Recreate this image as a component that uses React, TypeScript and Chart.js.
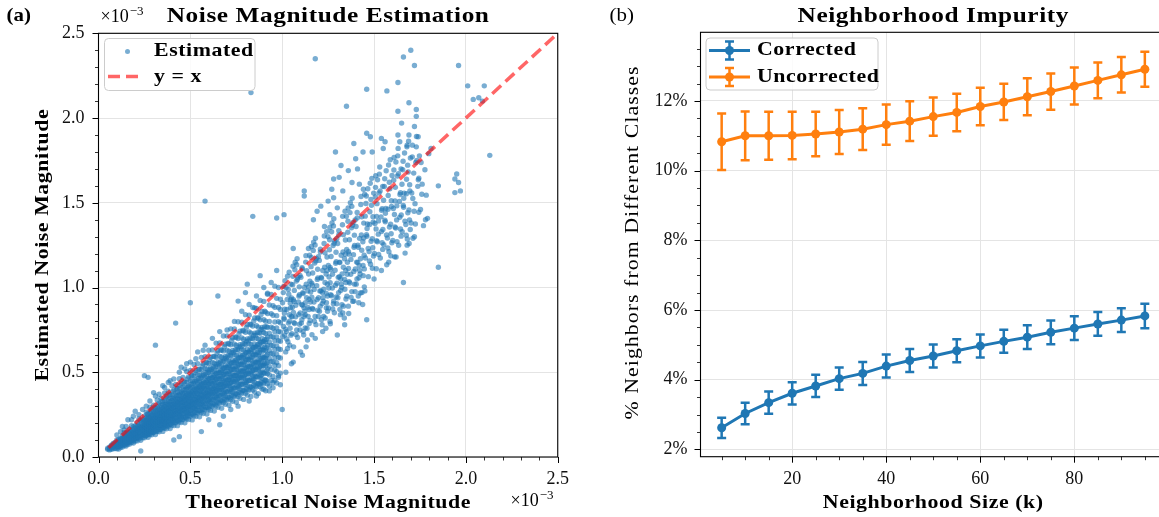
import React, { useEffect, useRef } from 'react';
import { Chart, registerables } from 'chart.js';
Chart.register(...registerables);

const FONT = '"Liberation Serif", "Times New Roman", serif';

// ---------- Panel (a): Noise Magnitude Estimation (values in units of 1e-3) ----------
const axisTicksA = [0, 0.5, 1.0, 1.5, 2.0, 2.5];

// dense core: [theoretical, [estimated values...]]
const denseCoreColumns: [number, number[]][] = [
  [0.05, [0.045, 0.052]],
  [0.06, [0.042, 0.05, 0.058]],
  [0.07, [0.046, 0.055, 0.063, 0.07]],
  [0.08, [0.048, 0.057, 0.064, 0.072, 0.08]],
  [0.09, [0.05, 0.06, 0.067, 0.075, 0.086]],
  [0.10, [0.048, 0.06, 0.07, 0.082, 0.1]],
  [0.11, [0.047, 0.065, 0.076, 0.088, 0.103]],
  [0.12, [0.056, 0.068, 0.079, 0.092, 0.11]],
  [0.13, [0.059, 0.075, 0.088, 0.102, 0.125]],
  [0.14, [0.067, 0.084, 0.098, 0.114, 0.143]],
  [0.15, [0.065, 0.075, 0.089, 0.104, 0.112, 0.12, 0.141]],
  [0.16, [0.075, 0.086, 0.098, 0.106, 0.114, 0.123, 0.147]],
  [0.17, [0.077, 0.088, 0.098, 0.115, 0.124, 0.133, 0.164]],
  [0.18, [0.086, 0.099, 0.108, 0.126, 0.136, 0.147, 0.184]],
  [0.19, [0.082, 0.095, 0.112, 0.131, 0.142, 0.152, 0.179]],
  [0.20, [0.094, 0.107, 0.122, 0.132, 0.143, 0.154, 0.184]],
  [0.21, [0.095, 0.109, 0.121, 0.142, 0.153, 0.165, 0.203]],
  [0.22, [0.106, 0.121, 0.132, 0.154, 0.166, 0.179, 0.224]],
  [0.23, [0.099, 0.115, 0.136, 0.159, 0.171, 0.184, 0.216]],
  [0.24, [0.113, 0.128, 0.146, 0.158, 0.172, 0.185, 0.221]],
  [0.25, [0.113, 0.13, 0.144, 0.156, 0.169, 0.183, 0.196, 0.215, 0.241]],
  [0.26, [0.125, 0.143, 0.156, 0.169, 0.182, 0.196, 0.212, 0.234, 0.265]],
  [0.27, [0.116, 0.135, 0.159, 0.173, 0.186, 0.201, 0.216, 0.238, 0.254]],
  [0.28, [0.132, 0.15, 0.158, 0.171, 0.185, 0.2, 0.216, 0.232, 0.258, 0.294]],
  [0.29, [0.131, 0.151, 0.167, 0.181, 0.196, 0.212, 0.228, 0.249, 0.28]],
  [0.30, [0.144, 0.165, 0.18, 0.195, 0.21, 0.227, 0.245, 0.27, 0.306]],
  [0.31, [0.133, 0.155, 0.183, 0.198, 0.214, 0.231, 0.248, 0.273, 0.291]],
  [0.32, [0.15, 0.171, 0.181, 0.195, 0.211, 0.229, 0.246, 0.266, 0.294, 0.336]],
  [0.33, [0.149, 0.172, 0.19, 0.206, 0.223, 0.241, 0.259, 0.284, 0.318]],
  [0.34, [0.163, 0.187, 0.204, 0.221, 0.238, 0.257, 0.277, 0.306, 0.347]],
  [0.35, [0.151, 0.175, 0.207, 0.224, 0.242, 0.261, 0.28, 0.308, 0.329]],
  [0.36, [0.169, 0.193, 0.203, 0.22, 0.238, 0.257, 0.277, 0.299, 0.331, 0.378]],
  [0.37, [0.167, 0.192, 0.213, 0.231, 0.25, 0.27, 0.29, 0.318, 0.357]],
  [0.38, [0.182, 0.209, 0.228, 0.247, 0.266, 0.287, 0.31, 0.342, 0.388]],
  [0.39, [0.168, 0.195, 0.23, 0.25, 0.269, 0.291, 0.312, 0.343, 0.367]],
  [0.40, [0.188, 0.214, 0.226, 0.244, 0.264, 0.286, 0.308, 0.332, 0.368, 0.42]],
  [0.41, [0.185, 0.213, 0.236, 0.256, 0.277, 0.299, 0.322, 0.353, 0.396]],
  [0.42, [0.202, 0.231, 0.252, 0.273, 0.294, 0.317, 0.342, 0.378, 0.428]],
  [0.43, [0.185, 0.215, 0.254, 0.275, 0.297, 0.32, 0.344, 0.378, 0.404]],
  [0.44, [0.207, 0.235, 0.249, 0.268, 0.29, 0.315, 0.339, 0.365, 0.405, 0.462]],
  [0.45, [0.203, 0.234, 0.259, 0.281, 0.304, 0.329, 0.353, 0.387, 0.434]],
  [0.46, [0.221, 0.253, 0.276, 0.299, 0.322, 0.347, 0.375, 0.414, 0.469]],
  [0.47, [0.202, 0.235, 0.277, 0.301, 0.324, 0.35, 0.376, 0.414, 0.442]],
  [0.48, [0.226, 0.257, 0.271, 0.293, 0.317, 0.343, 0.37, 0.398, 0.442, 0.504]],
  [0.49, [0.221, 0.255, 0.282, 0.306, 0.331, 0.358, 0.385, 0.421, 0.473]],
  [0.50, [0.24, 0.275, 0.3, 0.325, 0.35, 0.378, 0.408, 0.45, 0.51]],
  [0.51, [0.219, 0.255, 0.301, 0.326, 0.352, 0.38, 0.408, 0.449, 0.479]],
  [0.52, [0.244, 0.278, 0.294, 0.317, 0.343, 0.372, 0.4, 0.432, 0.478, 0.546]],
  [0.53, [0.239, 0.276, 0.305, 0.331, 0.358, 0.387, 0.416, 0.456, 0.511]],
  [0.54, [0.259, 0.297, 0.324, 0.351, 0.378, 0.408, 0.44, 0.486, 0.551]],
  [0.55, [0.237, 0.275, 0.325, 0.352, 0.38, 0.41, 0.44, 0.484, 0.517]],
  [0.56, [0.263, 0.3, 0.316, 0.342, 0.37, 0.4, 0.431, 0.465, 0.515, 0.588]],
  [0.57, [0.257, 0.296, 0.328, 0.356, 0.385, 0.416, 0.447, 0.49, 0.55]],
  [0.58, [0.278, 0.319, 0.348, 0.377, 0.406, 0.438, 0.473, 0.522, 0.592]],
  [0.59, [0.254, 0.295, 0.348, 0.378, 0.407, 0.44, 0.472, 0.519, 0.555]],
  [0.60, [0.282, 0.321, 0.339, 0.366, 0.396, 0.429, 0.462, 0.498, 0.552, 0.63]],
  [0.61, [0.275, 0.317, 0.351, 0.381, 0.412, 0.445, 0.479, 0.525, 0.589]],
  [0.62, [0.298, 0.341, 0.372, 0.403, 0.434, 0.468, 0.505, 0.558, 0.632]],
  [0.63, [0.271, 0.315, 0.372, 0.403, 0.435, 0.469, 0.504, 0.554, 0.592]],
  [0.64, [0.301, 0.342, 0.362, 0.39, 0.422, 0.458, 0.493, 0.531, 0.589, 0.672]],
  [0.65, [0.293, 0.338, 0.374, 0.406, 0.439, 0.475, 0.51, 0.559, 0.627]],
  [0.66, [0.317, 0.363, 0.396, 0.429, 0.462, 0.498, 0.538, 0.594, 0.673]],
  [0.67, [0.288, 0.335, 0.395, 0.429, 0.462, 0.499, 0.536, 0.59, 0.63]],
  [0.68, [0.32, 0.364, 0.384, 0.415, 0.449, 0.486, 0.524, 0.564, 0.626, 0.714]],
  [0.69, [0.311, 0.359, 0.397, 0.431, 0.466, 0.504, 0.542, 0.593, 0.666]],
  [0.70, [0.336, 0.385, 0.42, 0.455, 0.49, 0.529, 0.571, 0.63, 0.714]],
  [0.71, [0.305, 0.355, 0.419, 0.454, 0.49, 0.529, 0.568, 0.625, 0.667]],
  [0.72, [0.338, 0.385, 0.407, 0.439, 0.475, 0.515, 0.554, 0.598, 0.662, 0.756]],
  [0.73, [0.329, 0.38, 0.42, 0.456, 0.493, 0.533, 0.573, 0.628, 0.704]],
  [0.74, [0.355, 0.407, 0.444, 0.481, 0.518, 0.559, 0.603, 0.666, 0.755]],
  [0.75, [0.323, 0.375, 0.443, 0.48, 0.518, 0.559, 0.6, 0.66, 0.705]],
  [0.76, [0.357, 0.407, 0.429, 0.464, 0.502, 0.543, 0.585, 0.631, 0.699, 0.798]],
  [0.77, [0.347, 0.4, 0.443, 0.481, 0.52, 0.562, 0.604, 0.662, 0.743]],
  [0.78, [0.374, 0.429, 0.468, 0.507, 0.546, 0.589, 0.636, 0.702, 0.796]],
  [0.79, [0.34, 0.395, 0.466, 0.506, 0.545, 0.589, 0.632, 0.695, 0.743]],
  [0.80, [0.376, 0.428, 0.452, 0.488, 0.528, 0.572, 0.616, 0.664, 0.736, 0.84]],
  [0.81, [0.365, 0.421, 0.466, 0.506, 0.547, 0.591, 0.636, 0.697, 0.782]],
  [0.82, [0.394, 0.451, 0.492, 0.533, 0.574, 0.619, 0.668, 0.738, 0.836]],
  [0.83, [0.357, 0.415, 0.49, 0.531, 0.573, 0.618, 0.664, 0.73, 0.78]],
  [0.84, [0.395, 0.449, 0.475, 0.512, 0.554, 0.601, 0.647, 0.697, 0.773, 0.882]],
  [0.85, [0.383, 0.442, 0.489, 0.531, 0.574, 0.621, 0.667, 0.731, 0.82]],
  [0.86, [0.413, 0.473, 0.516, 0.559, 0.602, 0.649, 0.701, 0.774, 0.877]],
  [0.87, [0.374, 0.435, 0.513, 0.557, 0.6, 0.648, 0.696, 0.766, 0.818]],
  [0.88, [0.414, 0.471, 0.497, 0.537, 0.581, 0.629, 0.678, 0.73, 0.81, 0.924]],
  [0.89, [0.401, 0.463, 0.512, 0.556, 0.601, 0.65, 0.699, 0.765, 0.859]],
  [0.90, [0.432, 0.495, 0.54, 0.585, 0.63, 0.68, 0.734, 0.81, 0.918]],
  [0.91, [0.391, 0.455, 0.537, 0.582, 0.628, 0.678, 0.728, 0.801, 0.855]],
  [0.92, [0.432, 0.492, 0.52, 0.561, 0.607, 0.658, 0.708, 0.764, 0.846, 0.966]],
  [0.93, [0.419, 0.484, 0.535, 0.581, 0.628, 0.679, 0.73, 0.8, 0.897]],
  [0.94, [0.451, 0.517, 0.564, 0.611, 0.658, 0.71, 0.766, 0.846, 0.959]],
  [0.95, [0.409, 0.475, 0.561, 0.608, 0.656, 0.708, 0.76, 0.836, 0.893]],
  [0.96, [0.451, 0.514, 0.542, 0.586, 0.634, 0.686, 0.739, 0.797, 0.883, 1.008]],
  [0.97, [0.437, 0.504, 0.558, 0.606, 0.655, 0.708, 0.761, 0.834, 0.936]],
  [0.98, [0.47, 0.539, 0.588, 0.637, 0.686, 0.74, 0.799, 0.882, 1.0]],
  [0.99, [0.426, 0.495, 0.584, 0.634, 0.683, 0.738, 0.792, 0.871, 0.931]],
];

// second layer of the core, read between the first layer's columns
const denseCoreFillColumns: [number, number[]][] = [
  [0.105, [0.058, 0.068, 0.078, 0.09]],
  [0.115, [0.063, 0.075, 0.085, 0.099]],
  [0.125, [0.069, 0.081, 0.093, 0.108]],
  [0.135, [0.074, 0.088, 0.1, 0.116]],
  [0.145, [0.08, 0.094, 0.107, 0.125]],
  [0.155, [0.085, 0.101, 0.115, 0.133]],
  [0.165, [0.091, 0.107, 0.122, 0.142]],
  [0.175, [0.096, 0.114, 0.13, 0.151]],
  [0.185, [0.102, 0.12, 0.137, 0.159]],
  [0.195, [0.107, 0.127, 0.144, 0.168]],
  [0.205, [0.113, 0.133, 0.152, 0.176]],
  [0.215, [0.118, 0.14, 0.159, 0.185]],
  [0.225, [0.124, 0.146, 0.167, 0.194]],
  [0.235, [0.129, 0.153, 0.174, 0.202]],
  [0.245, [0.135, 0.159, 0.181, 0.211]],
  [0.255, [0.125, 0.142, 0.154, 0.167, 0.18, 0.194, 0.214]],
  [0.265, [0.133, 0.144, 0.162, 0.171, 0.189, 0.203, 0.225, 0.252]],
  [0.275, [0.135, 0.153, 0.166, 0.18, 0.194, 0.209, 0.231]],
  [0.285, [0.143, 0.155, 0.174, 0.184, 0.204, 0.218, 0.242, 0.271]],
  [0.295, [0.145, 0.164, 0.178, 0.193, 0.208, 0.224, 0.248]],
  [0.305, [0.153, 0.166, 0.186, 0.197, 0.218, 0.233, 0.259, 0.29]],
  [0.315, [0.154, 0.175, 0.191, 0.206, 0.222, 0.239, 0.265]],
  [0.325, [0.163, 0.177, 0.198, 0.21, 0.232, 0.249, 0.276, 0.309]],
  [0.335, [0.164, 0.186, 0.203, 0.219, 0.236, 0.255, 0.281]],
  [0.345, [0.173, 0.188, 0.21, 0.223, 0.247, 0.264, 0.293, 0.328]],
  [0.355, [0.174, 0.197, 0.215, 0.233, 0.25, 0.27, 0.298]],
  [0.365, [0.183, 0.199, 0.223, 0.235, 0.261, 0.279, 0.31, 0.347]],
  [0.375, [0.184, 0.208, 0.227, 0.246, 0.264, 0.285, 0.315]],
  [0.385, [0.193, 0.21, 0.235, 0.248, 0.275, 0.295, 0.327, 0.366]],
  [0.395, [0.194, 0.219, 0.239, 0.259, 0.278, 0.3, 0.332]],
  [0.405, [0.203, 0.221, 0.247, 0.261, 0.29, 0.31, 0.344, 0.385]],
  [0.415, [0.203, 0.23, 0.251, 0.272, 0.293, 0.315, 0.349]],
  [0.425, [0.213, 0.232, 0.259, 0.274, 0.304, 0.325, 0.361, 0.404]],
  [0.435, [0.213, 0.241, 0.263, 0.285, 0.307, 0.331, 0.365]],
  [0.445, [0.223, 0.243, 0.271, 0.287, 0.318, 0.34, 0.378, 0.423]],
  [0.455, [0.223, 0.253, 0.275, 0.298, 0.321, 0.346, 0.382]],
  [0.465, [0.233, 0.253, 0.284, 0.3, 0.332, 0.356, 0.395, 0.442]],
  [0.475, [0.233, 0.264, 0.287, 0.311, 0.335, 0.361, 0.399]],
  [0.485, [0.243, 0.264, 0.296, 0.313, 0.347, 0.371, 0.412, 0.461]],
  [0.495, [0.243, 0.275, 0.299, 0.324, 0.349, 0.376, 0.416]],
  [0.505, [0.253, 0.275, 0.308, 0.326, 0.361, 0.386, 0.429, 0.48]],
  [0.515, [0.252, 0.286, 0.312, 0.337, 0.363, 0.391, 0.433]],
  [0.525, [0.263, 0.286, 0.32, 0.339, 0.375, 0.402, 0.446, 0.499]],
  [0.535, [0.262, 0.297, 0.324, 0.35, 0.377, 0.407, 0.449]],
  [0.545, [0.273, 0.297, 0.332, 0.352, 0.39, 0.417, 0.463, 0.518]],
  [0.555, [0.272, 0.308, 0.336, 0.364, 0.391, 0.422, 0.466]],
  [0.565, [0.283, 0.308, 0.345, 0.364, 0.404, 0.432, 0.48, 0.537]],
  [0.575, [0.282, 0.319, 0.348, 0.377, 0.405, 0.437, 0.483]],
  [0.585, [0.293, 0.319, 0.357, 0.377, 0.418, 0.448, 0.497, 0.556]],
  [0.595, [0.292, 0.33, 0.36, 0.39, 0.419, 0.452, 0.5]],
  [0.605, [0.303, 0.33, 0.369, 0.39, 0.433, 0.463, 0.514, 0.575]],
  [0.615, [0.301, 0.341, 0.372, 0.403, 0.434, 0.467, 0.517]],
  [0.625, [0.313, 0.341, 0.381, 0.403, 0.447, 0.478, 0.531, 0.594]],
  [0.635, [0.311, 0.352, 0.384, 0.416, 0.448, 0.483, 0.533]],
  [0.645, [0.323, 0.352, 0.393, 0.416, 0.461, 0.493, 0.548, 0.613]],
  [0.655, [0.321, 0.364, 0.396, 0.429, 0.462, 0.498, 0.55]],
  [0.665, [0.333, 0.362, 0.406, 0.429, 0.475, 0.509, 0.565, 0.632]],
  [0.675, [0.331, 0.375, 0.408, 0.442, 0.476, 0.513, 0.567]],
  [0.685, [0.343, 0.373, 0.418, 0.442, 0.49, 0.524, 0.582, 0.651]],
  [0.695, [0.341, 0.386, 0.42, 0.455, 0.49, 0.528, 0.584]],
  [0.705, [0.353, 0.384, 0.43, 0.455, 0.504, 0.539, 0.599, 0.67]],
  [0.715, [0.35, 0.397, 0.433, 0.468, 0.504, 0.543, 0.601]],
  [0.725, [0.363, 0.395, 0.442, 0.468, 0.518, 0.555, 0.616, 0.689]],
  [0.735, [0.36, 0.408, 0.445, 0.481, 0.518, 0.559, 0.617]],
  [0.745, [0.373, 0.406, 0.454, 0.481, 0.533, 0.57, 0.633, 0.708]],
  [0.755, [0.37, 0.419, 0.457, 0.495, 0.532, 0.574, 0.634]],
  [0.765, [0.383, 0.417, 0.467, 0.493, 0.547, 0.585, 0.65, 0.727]],
  [0.775, [0.38, 0.43, 0.469, 0.508, 0.546, 0.589, 0.651]],
  [0.785, [0.393, 0.428, 0.479, 0.506, 0.561, 0.601, 0.667, 0.746]],
  [0.795, [0.39, 0.441, 0.481, 0.521, 0.56, 0.604, 0.668]],
  [0.805, [0.403, 0.439, 0.491, 0.519, 0.576, 0.616, 0.684, 0.765]],
  [0.815, [0.399, 0.452, 0.493, 0.534, 0.575, 0.619, 0.685]],
  [0.825, [0.413, 0.45, 0.503, 0.532, 0.59, 0.631, 0.701, 0.784]],
  [0.835, [0.409, 0.463, 0.505, 0.547, 0.589, 0.635, 0.701]],
  [0.845, [0.423, 0.461, 0.515, 0.545, 0.604, 0.646, 0.718, 0.803]],
  [0.855, [0.419, 0.475, 0.517, 0.56, 0.603, 0.65, 0.718]],
  [0.865, [0.433, 0.471, 0.528, 0.558, 0.618, 0.662, 0.735, 0.822]],
  [0.875, [0.429, 0.486, 0.529, 0.573, 0.617, 0.665, 0.735]],
  [0.885, [0.443, 0.482, 0.54, 0.571, 0.633, 0.677, 0.752, 0.841]],
  [0.895, [0.439, 0.497, 0.541, 0.586, 0.631, 0.68, 0.752]],
  [0.905, [0.453, 0.493, 0.552, 0.584, 0.647, 0.692, 0.769, 0.86]],
  [0.915, [0.448, 0.508, 0.554, 0.599, 0.645, 0.695, 0.769]],
];

// medium-density cloud between 1.0 and 1.45
const midCloudPoints: [number, number][] = [
  [1.003, 0.71], [1.027, 0.93], [1.041, 0.66], [1.012, 0.85], [1.048, 1.02], [1.019, 0.62], [1.034, 0.79], [1.006, 0.97], [1.045, 0.88], [1.023, 0.74], [1.038, 1.09], [1.009, 0.82], [1.031, 0.68], [1.016, 1.04], [1.043, 0.76], [1.026, 0.87], [1.002, 0.91], [1.036, 0.96], [1.014, 0.72], [1.049, 0.83], [1.021, 1.0], [1.029, 0.64], [1.046, 0.93], [1.007, 0.77], [1.039, 0.84],
  [1.097, 1.071], [1.073, 0.827], [1.059, 1.126], [1.088, 0.915], [1.052, 0.728], [1.081, 1.17], [1.066, 0.983], [1.094, 0.783], [1.055, 0.882], [1.077, 1.038], [1.062, 0.65], [1.091, 0.949], [1.069, 1.105], [1.084, 0.705], [1.057, 1.017], [1.074, 0.895], [1.098, 0.85], [1.064, 0.793], [1.086, 1.061], [1.051, 0.939], [1.079, 0.749], [1.071, 1.149], [1.054, 0.827], [1.093, 1.004], [1.061, 0.928],
  [1.104, 0.79], [1.131, 1.02], [1.117, 0.72], [1.146, 0.93], [1.109, 1.11], [1.138, 0.69], [1.123, 0.86], [1.149, 1.19], [1.112, 0.97], [1.141, 0.83], [1.126, 0.91], [1.102, 1.06], [1.135, 0.76], [1.119, 0.88], [1.144, 1.08], [1.107, 0.81], [1.128, 1.15], [1.139, 0.98], [1.114, 0.74], [1.147, 0.87], [1.121, 1.0], [1.133, 0.94], [1.106, 0.9], [1.143, 1.23], [1.125, 0.84],
  [1.197, 1.182], [1.173, 0.915], [1.159, 1.242], [1.188, 1.011], [1.152, 0.806], [1.181, 1.291], [1.166, 1.086], [1.194, 0.866], [1.155, 0.974], [1.177, 1.145], [1.162, 0.721], [1.191, 1.048], [1.169, 1.219], [1.184, 0.781], [1.157, 1.123], [1.174, 0.989], [1.198, 0.94], [1.164, 0.877], [1.186, 1.171], [1.151, 1.037], [1.179, 0.829], [1.171, 1.268], [1.154, 0.915], [1.193, 1.108], [1.161, 1.026],
  [1.203, 0.86], [1.231, 1.12], [1.217, 0.78], [1.246, 1.02], [1.208, 1.21], [1.238, 0.76], [1.222, 0.94], [1.249, 1.3], [1.212, 1.06], [1.241, 0.91], [1.226, 0.99], [1.202, 1.16], [1.234, 0.82], [1.219, 0.97], [1.244, 1.18], [1.207, 0.89], [1.228, 1.26], [1.239, 1.08], [1.214, 0.81], [1.247, 0.95], [1.221, 1.1], [1.233, 1.03], [1.205, 0.98], [1.242, 1.33], [1.224, 0.92],
  [1.297, 1.288], [1.273, 0.997], [1.259, 1.354], [1.288, 1.102], [1.252, 0.879], [1.281, 1.406], [1.266, 1.183], [1.294, 0.944], [1.255, 1.062], [1.277, 1.248], [1.262, 0.786], [1.291, 1.143], [1.269, 1.329], [1.284, 0.851], [1.257, 1.223], [1.274, 1.078], [1.298, 1.025], [1.264, 0.957], [1.286, 1.276], [1.251, 1.13], [1.279, 0.904], [1.271, 1.381], [1.254, 0.997], [1.293, 1.208], [1.261, 1.118],
  [1.303, 0.94], [1.331, 1.21], [1.317, 0.84], [1.346, 1.1], [1.308, 1.31], [1.338, 0.82], [1.322, 1.02], [1.349, 1.42], [1.312, 1.15], [1.341, 0.99], [1.326, 1.08], [1.302, 1.26], [1.334, 0.89], [1.319, 1.05], [1.344, 1.28], [1.307, 0.97], [1.328, 1.37], [1.339, 1.17], [1.314, 0.87], [1.347, 1.03], [1.321, 1.19], [1.333, 1.12], [1.305, 1.06], [1.342, 1.45], [1.324, 1.0],
  [1.397, 1.398], [1.373, 1.078], [1.359, 1.469], [1.388, 1.194], [1.352, 0.949], [1.381, 1.527], [1.366, 1.282], [1.394, 1.02], [1.355, 1.149], [1.377, 1.353], [1.362, 0.847], [1.391, 1.238], [1.369, 1.442], [1.384, 0.918], [1.357, 1.326], [1.374, 1.166], [1.398, 1.109], [1.364, 1.034], [1.386, 1.384], [1.351, 1.224], [1.379, 0.976], [1.371, 1.5], [1.354, 1.078], [1.393, 1.309], [1.361, 1.211],
  [1.403, 1.02], [1.431, 1.31], [1.417, 0.91], [1.446, 1.19], [1.408, 1.41], [1.438, 0.9], [1.422, 1.1], [1.449, 1.55], [1.412, 1.25], [1.441, 1.07], [1.426, 1.17], [1.402, 1.36], [1.434, 0.97], [1.419, 1.13], [1.444, 1.38], [1.407, 1.05], [1.428, 1.49], [1.439, 1.27], [1.414, 0.95], [1.447, 1.11], [1.421, 1.29], [1.433, 1.22], [1.405, 1.15], [1.442, 1.58], [1.424, 1.08],
  [1.011, 0.813], [1.033, 0.989], [1.025, 0.696], [1.044, 0.907], [1.008, 1.006], [1.018, 0.754], [1.04, 0.801], [1.029, 1.067], [1.014, 0.872], [1.047, 0.719],
  [1.061, 0.853], [1.083, 1.048], [1.075, 0.723], [1.094, 0.957], [1.058, 1.066], [1.068, 0.788], [1.09, 0.84], [1.079, 1.134], [1.064, 0.918], [1.097, 0.749],
  [1.111, 0.896], [1.133, 1.099], [1.125, 0.761], [1.144, 1.004], [1.108, 1.117], [1.118, 0.829], [1.14, 0.883], [1.129, 1.188], [1.114, 0.964], [1.147, 0.788],
  [1.161, 0.943], [1.183, 1.157], [1.175, 0.801], [1.194, 1.057], [1.158, 1.177], [1.168, 0.872], [1.19, 0.929], [1.179, 1.251], [1.164, 1.014], [1.197, 0.829],
  [1.211, 0.98], [1.233, 1.205], [1.225, 0.83], [1.244, 1.1], [1.208, 1.226], [1.218, 0.905], [1.24, 0.965], [1.229, 1.304], [1.214, 1.055], [1.247, 0.86],
  [1.261, 1.028], [1.283, 1.261], [1.275, 0.873], [1.294, 1.152], [1.258, 1.282], [1.268, 0.951], [1.29, 1.013], [1.279, 1.363], [1.264, 1.106], [1.297, 0.904],
  [1.311, 1.064], [1.333, 1.312], [1.325, 0.899], [1.344, 1.196], [1.308, 1.335], [1.318, 0.982], [1.34, 1.048], [1.329, 1.42], [1.314, 1.147], [1.347, 0.932],
  [1.361, 1.112], [1.383, 1.367], [1.375, 0.942], [1.394, 1.248], [1.358, 1.391], [1.368, 1.027], [1.39, 1.095], [1.379, 1.479], [1.364, 1.197], [1.397, 0.976],
  [1.411, 1.148], [1.433, 1.418], [1.425, 0.968], [1.444, 1.292], [1.408, 1.443], [1.418, 1.058], [1.44, 1.13], [1.429, 1.537], [1.414, 1.238], [1.447, 1.004],
];

// upper cloud between 1.45 and 1.8
const upperCloudPoints: [number, number][] = [
  [1.453, 1.174], [1.477, 1.447], [1.491, 1.114], [1.462, 1.348], [1.498, 1.557], [1.469, 1.064], [1.484, 1.273], [1.456, 1.496], [1.495, 1.386], [1.473, 1.212], [1.488, 1.644], [1.459, 1.311], [1.481, 1.137], [1.466, 1.583], [1.493, 1.235], [1.476, 1.372], [1.452, 1.421], [1.486, 1.485],
  [1.547, 1.597], [1.523, 1.315], [1.509, 1.66], [1.538, 1.417], [1.502, 1.201], [1.531, 1.711], [1.516, 1.495], [1.544, 1.264], [1.505, 1.378], [1.527, 1.558], [1.512, 1.111], [1.541, 1.456], [1.519, 1.636], [1.534, 1.174], [1.507, 1.534], [1.524, 1.393], [1.548, 1.342], [1.514, 1.276],
  [1.553, 1.252], [1.577, 1.543], [1.591, 1.187], [1.562, 1.438], [1.598, 1.661], [1.569, 1.134], [1.584, 1.357], [1.556, 1.596], [1.595, 1.478], [1.573, 1.292], [1.588, 1.754], [1.559, 1.397], [1.581, 1.211], [1.566, 1.689], [1.593, 1.317], [1.576, 1.462], [1.552, 1.515], [1.586, 1.583],
  [1.647, 1.7], [1.623, 1.399], [1.609, 1.767], [1.638, 1.508], [1.602, 1.277], [1.631, 1.821], [1.616, 1.591], [1.644, 1.345], [1.605, 1.466], [1.627, 1.658], [1.612, 1.181], [1.641, 1.549], [1.619, 1.741], [1.634, 1.249], [1.607, 1.633], [1.624, 1.482], [1.648, 1.428], [1.614, 1.357],
  [1.653, 1.329], [1.677, 1.639], [1.691, 1.26], [1.662, 1.527], [1.698, 1.764], [1.669, 1.203], [1.684, 1.441], [1.656, 1.695], [1.695, 1.57], [1.673, 1.372], [1.688, 1.863], [1.659, 1.484], [1.681, 1.286], [1.666, 1.794], [1.693, 1.398], [1.676, 1.553], [1.652, 1.609], [1.686, 1.682],
  [1.747, 1.777], [1.723, 1.495], [1.709, 1.84], [1.738, 1.597], [1.702, 1.381], [1.731, 1.891], [1.716, 1.675], [1.744, 1.444], [1.705, 1.558], [1.727, 1.738], [1.712, 1.291], [1.741, 1.636],
  [1.753, 1.46], [1.777, 1.695], [1.791, 1.408], [1.762, 1.61], [1.798, 1.79], [1.769, 1.365], [1.784, 1.545], [1.756, 1.738],
  [1.461, 1.302], [1.483, 1.52], [1.475, 1.157], [1.494, 1.418], [1.458, 1.54], [1.468, 1.23], [1.49, 1.288], [1.479, 1.615], [1.464, 1.375], [1.497, 1.186],
  [1.511, 1.345], [1.533, 1.57], [1.525, 1.195], [1.544, 1.465], [1.508, 1.591], [1.518, 1.27], [1.54, 1.33], [1.529, 1.669], [1.514, 1.42], [1.547, 1.225],
  [1.561, 1.388], [1.583, 1.621], [1.575, 1.233], [1.594, 1.512], [1.558, 1.642], [1.568, 1.31], [1.59, 1.373], [1.579, 1.723], [1.564, 1.466], [1.597, 1.264],
  [1.611, 1.431], [1.633, 1.671], [1.625, 1.271], [1.644, 1.559], [1.608, 1.693], [1.618, 1.351], [1.64, 1.415], [1.629, 1.777], [1.614, 1.511], [1.647, 1.303],
  [1.661, 1.474], [1.683, 1.722], [1.675, 1.309], [1.694, 1.606], [1.658, 1.745], [1.668, 1.392], [1.69, 1.458], [1.679, 1.83], [1.664, 1.557], [1.697, 1.342],
  [1.711, 1.525], [1.733, 1.75], [1.725, 1.375], [1.744, 1.645], [1.708, 1.771], [1.718, 1.45],
];

const scatteredPoints: [number, number][] = [
  [0.58, 1.51], [0.83, 2.15], [1.18, 2.35], [1.70, 2.40], [1.66, 2.36], [1.72, 2.31], [1.96, 2.31], [2.01, 2.19],
  [2.10, 2.19], [2.04, 2.11], [2.07, 2.12], [2.09, 2.10], [2.13, 1.78], [1.46, 2.17], [1.57, 2.16], [1.63, 2.21],
  [1.35, 2.07], [1.69, 2.09], [1.63, 2.04], [1.73, 2.05], [1.73, 2.01], [1.65, 1.97], [1.72, 1.95], [1.46, 1.91],
  [1.48, 1.89], [1.54, 1.88], [1.56, 1.86], [1.63, 1.90], [1.69, 1.90], [1.74, 1.89], [1.64, 1.86], [1.68, 1.84],
  [1.73, 1.83], [1.81, 1.82], [1.49, 1.80], [1.55, 1.82], [1.39, 1.85], [1.29, 1.80], [1.85, 1.60], [1.94, 1.56],
  [1.97, 1.57], [1.95, 1.67], [1.94, 1.64], [1.96, 1.62], [1.76, 1.55], [1.12, 1.57], [1.12, 1.54], [1.06, 1.23],
  [0.97, 1.41], [1.01, 1.43], [0.84, 1.42], [1.66, 1.03], [1.85, 1.12], [1.46, 0.81], [1.34, 0.78], [1.30, 0.72],
  [1.05, 0.55], [1.10, 0.62], [1.11, 0.60], [1.00, 0.28], [0.93, 0.39], [0.98, 0.48], [0.88, 0.43],
  [0.50, 0.91], [0.31, 0.66], [0.42, 0.79], [0.65, 0.95], [0.81, 1.02], [0.88, 1.07], [0.23, 0.035], [0.44, 0.12],
  [0.41, 0.10], [0.66, 0.19], [0.56, 0.15], [0.25, 0.48], [0.27, 0.47],
  [1.17, 1.40], [1.21, 1.48], [1.23, 1.36], [1.26, 1.43], [1.28, 1.53], [1.28, 1.64], [1.31, 1.65], [1.36, 1.69],
  [1.41, 1.70], [1.42, 1.61], [1.25, 1.51], [1.33, 1.57], [1.38, 1.62], [1.30, 1.47],
  [1.40, 1.76], [1.44, 1.80], [1.19, 1.45], [1.27, 1.58], [1.32, 1.72],
  [0.70, 0.75], [0.74, 0.80], [0.78, 0.86], [0.82, 0.90], [0.86, 0.95], [0.90, 1.00], [0.94, 1.03], [0.76, 0.92],
  [0.85, 0.88], [0.92, 0.96], [0.97, 1.10], [0.80, 0.97], [0.62, 0.70], [0.66, 0.74], [0.58, 0.66], [0.54, 0.62],
  [0.48, 0.55], [0.45, 0.53], [0.38, 0.44], [0.35, 0.42], [0.30, 0.38], [0.20, 0.27], [0.16, 0.22], [0.13, 0.18],
  [0.60, 0.22], [0.68, 0.24], [0.72, 0.28], [0.76, 0.30], [0.82, 0.33], [0.86, 0.36], [0.90, 0.40], [0.95, 0.44],
  [1.02, 0.50], [1.06, 0.56], [1.13, 0.65], [1.18, 0.70], [1.22, 0.74], [1.26, 0.80], [1.33, 0.85], [1.39, 0.92],
  [1.36, 0.89], [1.28, 0.92], [1.24, 0.88], [1.45, 0.98], [1.50, 1.05], [1.54, 1.10], [1.58, 1.15], [1.62, 1.18],
  [1.68, 1.25], [1.72, 1.30], [1.78, 1.40],
  [0.12, 0.15], [0.15, 0.18], [0.18, 0.22], [0.22, 0.25], [0.26, 0.30], [0.28, 0.33], [0.33, 0.37], [0.36, 0.41],
  [0.41, 0.46], [0.44, 0.50], [0.50, 0.56], [0.53, 0.58], [0.57, 0.63], [0.10, 0.13], [0.14, 0.16], [0.19, 0.24],
  [0.24, 0.28], [0.31, 0.36], [0.39, 0.45], [0.47, 0.52],
];

const identityLineEnds = [0.055, 2.5];

// ---------- Panel (b): Neighborhood Impurity ----------
const neighborhoodSizes = [5, 10, 15, 20, 25, 30, 35, 40, 45, 50, 55, 60, 65, 70, 75, 80, 85, 90, 95];
const correctedMean = [2.62, 3.03, 3.34, 3.61, 3.82, 4.03, 4.18, 4.39, 4.55, 4.68, 4.83, 4.97, 5.10, 5.22, 5.36, 5.48, 5.60, 5.71, 5.83];
const correctedErr = [0.29, 0.31, 0.32, 0.32, 0.32, 0.32, 0.33, 0.33, 0.33, 0.33, 0.33, 0.33, 0.33, 0.34, 0.34, 0.34, 0.34, 0.34, 0.35];
const uncorrectedMean = [10.83, 11.0, 11.0, 11.01, 11.05, 11.11, 11.19, 11.32, 11.42, 11.55, 11.67, 11.84, 11.97, 12.12, 12.27, 12.43, 12.59, 12.75, 12.91];
const uncorrectedErr = [0.81, 0.70, 0.69, 0.68, 0.64, 0.63, 0.60, 0.58, 0.57, 0.55, 0.54, 0.54, 0.52, 0.53, 0.52, 0.53, 0.51, 0.51, 0.50];
const xTicksB = [20, 40, 60, 80];
const yTicksB = [2, 4, 6, 8, 10, 12];

const BLUE = '#1f77b4';
const ORANGE = '#ff7f0e';
const SCATTER_COLOR = 'rgba(31,119,180,0.6)';
const RED_LINE = 'rgba(255,0,0,0.6)';
const GRID = '#e4e4e4';

type TextOpts = { size: number; bold?: boolean; align?: CanvasTextAlign; baseline?: CanvasTextBaseline; spacing?: number; rotate?: number; color?: string; sx?: number };
function drawText(ctx: CanvasRenderingContext2D, s: string, x: number, y: number, o: TextOpts) {
  ctx.save();
  ctx.font = `${o.bold ? 'bold ' : ''}${o.size}px ${FONT}`;
  (ctx as any).letterSpacing = `${o.spacing || 0}px`;
  ctx.fillStyle = o.color || '#000';
  ctx.textAlign = o.align || 'left';
  ctx.textBaseline = o.baseline || 'alphabetic';
  ctx.translate(x, y);
  if (o.rotate) ctx.rotate(o.rotate);
  if (o.sx) ctx.scale(o.sx, 1);
  ctx.fillText(s, 0, 0);
  ctx.restore();
}

const BOLD_LABEL = { size: 19, bold: true, spacing: 0.5, sx: 1.15 };

function drawOffset(ctx: CanvasRenderingContext2D, x: number, baseline: number) {
  ctx.save();
  ctx.font = `18px ${FONT}`;
  (ctx as any).letterSpacing = '0px';
  ctx.fillStyle = '#000';
  ctx.textAlign = 'left';
  ctx.textBaseline = 'alphabetic';
  ctx.fillText('\u00d710', x, baseline);
  const w = ctx.measureText('\u00d710').width;
  ctx.font = `13px ${FONT}`;
  ctx.fillText('\u22123', x + w + 1, baseline - 7);
  ctx.restore();
}

function drawTicks(ctx: CanvasRenderingContext2D, chart: any, xMajor: number[], xMinor: number[], yMajor: number[], yMinor: number[]) {
  const { left, bottom } = chart.chartArea;
  const xs = chart.scales.x, ys = chart.scales.y;
  ctx.save();
  ctx.strokeStyle = '#000';
  const tick = (vals: number[], len: number, w: number, horiz: boolean) => {
    ctx.lineWidth = w;
    ctx.beginPath();
    for (const v of vals) {
      if (horiz) {
        const p = Math.round(xs.getPixelForValue(v)) + 0.5;
        ctx.moveTo(p, bottom); ctx.lineTo(p, bottom + len);
      } else {
        const p = Math.round(ys.getPixelForValue(v)) + 0.5;
        ctx.moveTo(left, p); ctx.lineTo(left - len, p);
      }
    }
    ctx.stroke();
  };
  tick(xMajor, 6, 1, true);
  tick(xMinor, 3.5, 0.8, true);
  tick(yMajor, 6, 1, false);
  tick(yMinor, 3.5, 0.8, false);
  ctx.restore();
}

function drawFrame(ctx: CanvasRenderingContext2D, chart: any) {
  const { left, right, top, bottom } = chart.chartArea;
  ctx.save();
  ctx.strokeStyle = '#000';
  ctx.lineWidth = 1.1;
  ctx.strokeRect(left, top, right - left, bottom - top);
  ctx.restore();
}

function legendBox(ctx: CanvasRenderingContext2D, x: number, y: number, w: number, h: number) {
  ctx.save();
  ctx.beginPath();
  (ctx as any).roundRect(x, y, w, h, 4);
  ctx.fillStyle = 'rgba(255,255,255,0.85)';
  ctx.fill();
  ctx.strokeStyle = '#cccccc';
  ctx.lineWidth = 1;
  ctx.stroke();
  ctx.restore();
}

function range(from: number, to: number, step: number, skip: number[]) {
  const out: number[] = [];
  const n = Math.round((to - from) / step);
  for (let i = 0; i <= n; i++) {
    const v = +(from + i * step).toFixed(4);
    if (!skip.some((s) => Math.abs(s - v) < 1e-6)) out.push(v);
  }
  return out;
}

const decorA = {
  id: 'decorA',
  afterDraw(chart: any) {
    const ctx: CanvasRenderingContext2D = chart.ctx;
    drawTicks(ctx, chart, axisTicksA, range(0, 2.5, 0.1, axisTicksA), axisTicksA, range(0, 2.5, 0.1, axisTicksA));
    drawFrame(ctx, chart);
    const { left, right, top, bottom } = chart.chartArea;
    const cx = (left + right) / 2, cy = (top + bottom) / 2;
    drawText(ctx, '(a)', 6.5, 21, { size: 19, bold: true, sx: 1.1 });
    drawText(ctx, 'Noise Magnitude Estimation', cx, 22, { size: 22, bold: true, align: 'center', spacing: 0.5, sx: 1.15 });
    drawText(ctx, 'Theoretical Noise Magnitude', cx, 508, { ...BOLD_LABEL, align: 'center' });
    drawText(ctx, 'Estimated Noise Magnitude', 43, cy, { ...BOLD_LABEL, align: 'center', baseline: 'middle', rotate: -Math.PI / 2 });
    drawOffset(ctx, 100.5, 22);
    drawOffset(ctx, 510.5, 506);
    // legend
    legendBox(ctx, 104.5, 38.5, 150.5, 52);
    ctx.save();
    ctx.fillStyle = SCATTER_COLOR;
    ctx.beginPath(); ctx.arc(127.5, 51.5, 2.5, 0, Math.PI * 2); ctx.fill();
    ctx.strokeStyle = RED_LINE; ctx.lineWidth = 3.5; ctx.setLineDash([12, 6]);
    ctx.beginPath(); ctx.moveTo(108, 76.5); ctx.lineTo(143, 76.5); ctx.stroke();
    ctx.restore();
    drawText(ctx, 'Estimated', 154, 51.5, { ...BOLD_LABEL, baseline: 'middle' });
    drawText(ctx, 'y = x', 154, 77, { ...BOLD_LABEL, baseline: 'middle' });
  },
};

const errorBarsB = {
  id: 'errorBarsB',
  beforeDatasetsDraw(chart: any) {
    const ctx: CanvasRenderingContext2D = chart.ctx;
    const xs = chart.scales.x, ys = chart.scales.y;
    ctx.save();
    chart.data.datasets.forEach((ds: any) => {
      ctx.strokeStyle = ds.borderColor;
      ctx.lineWidth = 2.5;
      ds.data.forEach((p: any, i: number) => {
        const e = ds.errors[i];
        const x = xs.getPixelForValue(p.x);
        const y1 = ys.getPixelForValue(p.y + e), y2 = ys.getPixelForValue(p.y - e);
        ctx.beginPath();
        ctx.moveTo(x, y1); ctx.lineTo(x, y2);
        ctx.moveTo(x - 4.5, y1); ctx.lineTo(x + 4.5, y1);
        ctx.moveTo(x - 4.5, y2); ctx.lineTo(x + 4.5, y2);
        ctx.stroke();
      });
    });
    ctx.restore();
  },
};

const decorB = {
  id: 'decorB',
  afterDraw(chart: any) {
    const ctx: CanvasRenderingContext2D = chart.ctx;
    drawTicks(ctx, chart, xTicksB, range(5, 95, 5, xTicksB), yTicksB, range(2.5, 13.5, 0.5, yTicksB));
    drawFrame(ctx, chart);
    const { left, right, top, bottom } = chart.chartArea;
    const cx = (left + right) / 2, cy = (top + bottom) / 2;
    drawText(ctx, '(b)', 29.5, 21, { size: 19, sx: 1.1 });
    drawText(ctx, 'Neighborhood Impurity', cx, 22, { size: 22, bold: true, align: 'center', spacing: 0.5, sx: 1.15 });
    drawText(ctx, 'Neighborhood Size (k)', cx, 508, { ...BOLD_LABEL, align: 'center' });
    drawText(ctx, '% Neighbors from Different Classes', 53.5, cy - 2, { size: 19, align: 'center', baseline: 'middle', spacing: 0.9, sx: 1.15, rotate: -Math.PI / 2 });
    // legend
    legendBox(ctx, 126, 38, 172, 52);
    const entries: [string, string, number][] = [['Corrected', BLUE, 50.5], ['Uncorrected', ORANGE, 77]];
    for (const [label, color, y] of entries) {
      ctx.save();
      ctx.strokeStyle = color; ctx.fillStyle = color; ctx.lineWidth = 3;
      ctx.beginPath(); ctx.moveTo(129, y); ctx.lineTo(170, y); ctx.stroke();
      ctx.lineWidth = 2.5;
      ctx.beginPath();
      ctx.moveTo(149.5, y - 9); ctx.lineTo(149.5, y + 9);
      ctx.moveTo(145, y - 9); ctx.lineTo(154, y - 9);
      ctx.moveTo(145, y + 9); ctx.lineTo(154, y + 9);
      ctx.stroke();
      ctx.beginPath(); ctx.arc(149.5, y, 4.5, 0, Math.PI * 2); ctx.fill();
      ctx.restore();
      drawText(ctx, label, 177, y, { ...BOLD_LABEL, baseline: 'middle' });
    }
  },
};

const tickFont = { family: FONT, size: 18 };

export default function App() {
  const refA = useRef<HTMLCanvasElement>(null);
  const refB = useRef<HTMLCanvasElement>(null);

  useEffect(() => {
    Chart.defaults.font.family = FONT;
    const scatterData: { x: number; y: number }[] = [];
    [...denseCoreColumns, ...denseCoreFillColumns].forEach(([x, ys]) => ys.forEach((y) => scatterData.push({ x, y })));
    [...midCloudPoints, ...upperCloudPoints, ...scatteredPoints].forEach(([x, y]) => scatterData.push({ x, y }));

    const chartA = new Chart(refA.current!, {
      type: 'scatter',
      data: {
        datasets: [
          {
            label: 'y = x',
            data: identityLineEnds.map((v) => ({ x: v, y: v })),
            showLine: true,
            borderColor: RED_LINE,
            borderWidth: 3.5,
            borderDash: [12, 6],
            pointRadius: 0,
            backgroundColor: 'transparent',
          } as any,
          {
            label: 'Estimated',
            data: scatterData,
            pointRadius: 2.7,
            pointHoverRadius: 2.7,
            backgroundColor: SCATTER_COLOR,
            borderWidth: 0,
            pointBorderWidth: 0,
          } as any,
        ],
      },
      options: {
        responsive: false,
        animation: false,
        devicePixelRatio: 1,
        events: [],
        layout: { padding: { top: 33.3, right: 17, bottom: 0, left: 0 } },
        plugins: { legend: { display: false }, tooltip: { enabled: false }, title: { display: false } },
        scales: {
          x: {
            type: 'linear', min: 0, max: 2.5,
            afterBuildTicks: (s: any) => { s.ticks = axisTicksA.map((v) => ({ value: v })); },
            afterFit: (s: any) => { s.height = 60; },
            ticks: { font: tickFont, color: '#111', padding: 11, maxRotation: 0, autoSkip: false, callback: (v: any) => Number(v).toFixed(1) },
            grid: { color: GRID, lineWidth: 1, drawTicks: false },
            border: { display: false },
          },
          y: {
            type: 'linear', min: 0, max: 2.5,
            afterBuildTicks: (s: any) => { s.ticks = axisTicksA.map((v) => ({ value: v })); },
            afterFit: (s: any) => { s.width = 98.5; },
            ticks: { font: tickFont, color: '#111', padding: 14, autoSkip: false, callback: (v: any) => Number(v).toFixed(1) },
            grid: { color: GRID, lineWidth: 1, drawTicks: false },
            border: { display: false },
          },
        },
      } as any,
      plugins: [decorA],
    });

    const chartB = new Chart(refB.current!, {
      type: 'line',
      data: {
        datasets: [
          {
            label: 'Corrected',
            data: neighborhoodSizes.map((k, i) => ({ x: k, y: correctedMean[i] })),
            errors: correctedErr,
            borderColor: BLUE, backgroundColor: BLUE,
            borderWidth: 3, pointRadius: 4.5, pointBorderWidth: 0, pointBackgroundColor: BLUE,
            tension: 0, fill: false,
          } as any,
          {
            label: 'Uncorrected',
            data: neighborhoodSizes.map((k, i) => ({ x: k, y: uncorrectedMean[i] })),
            errors: uncorrectedErr,
            borderColor: ORANGE, backgroundColor: ORANGE,
            borderWidth: 3, pointRadius: 4.5, pointBorderWidth: 0, pointBackgroundColor: ORANGE,
            tension: 0, fill: false,
          } as any,
        ],
      },
      options: {
        responsive: false,
        animation: false,
        devicePixelRatio: 1,
        events: [],
        layout: { padding: { top: 32.3, right: 14, bottom: 0, left: 0 } },
        plugins: { legend: { display: false }, tooltip: { enabled: false }, title: { display: false } },
        scales: {
          x: {
            type: 'linear', min: 0.5, max: 99.5,
            afterBuildTicks: (s: any) => { s.ticks = xTicksB.map((v) => ({ value: v })); },
            afterFit: (s: any) => { s.height = 60.3; },
            ticks: { font: tickFont, color: '#111', padding: 12, maxRotation: 0, autoSkip: false, callback: (v: any) => String(v) },
            grid: { color: GRID, lineWidth: 1, drawTicks: false },
            border: { display: false },
          },
          y: {
            type: 'linear', min: 1.79, max: 13.97,
            afterBuildTicks: (s: any) => { s.ticks = yTicksB.map((v) => ({ value: v })); },
            afterFit: (s: any) => { s.width = 120.5; },
            ticks: { font: tickFont, color: '#111', padding: 13, autoSkip: false, callback: (v: any) => `${v}%` },
            grid: { color: GRID, lineWidth: 1, drawTicks: false },
            border: { display: false },
          },
        },
      } as any,
      plugins: [errorBarsB, decorB],
    });

    return () => {
      chartA.destroy();
      chartB.destroy();
    };
  }, []);

  return (
    <div style={{ position: 'absolute', left: 0, top: 0, width: 1159, height: 517, overflow: 'hidden', background: '#fff' }}>
      <canvas ref={refA} width={580} height={517} style={{ position: 'absolute', left: 0, top: 0, width: 580, height: 517 }} />
      <canvas ref={refB} width={600} height={517} style={{ position: 'absolute', left: 580, top: 0, width: 600, height: 517 }} />
    </div>
  );
}
